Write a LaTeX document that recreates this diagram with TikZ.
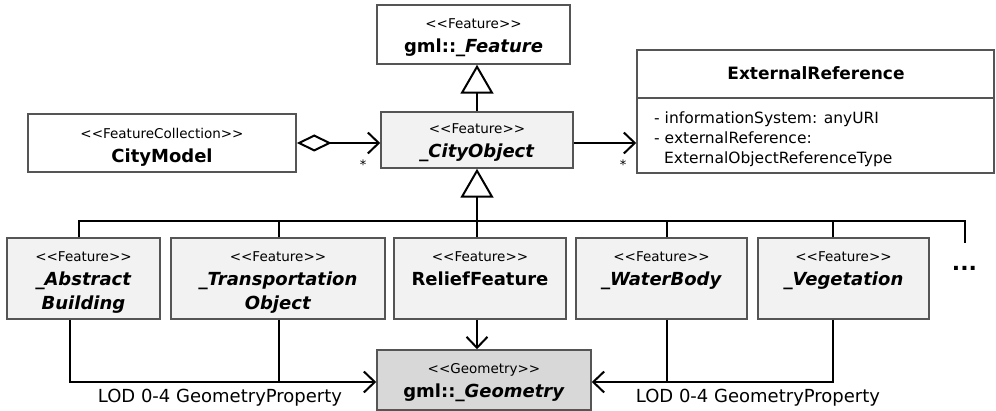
\documentclass[tikz,border=0pt]{standalone}
\usepackage{fontspec}
\setmainfont{DejaVu Sans}
\usetikzlibrary{arrows.meta}
\definecolor{boxline}{HTML}{555555}
\definecolor{featfill}{HTML}{F2F2F2}
\definecolor{geomfill}{HTML}{D8D8D8}
\newcommand{\stereo}[1]{{\fontsize{13.5}{16}\selectfont <{}<#1>{}>}}
\begin{document}
\begin{tikzpicture}[x=1pt,y=-1pt,
    font=\fontsize{18}{24}\selectfont,
    classbox/.style={draw=boxline,line width=1.5pt,fill=white,inner sep=0pt},
    classtext/.style={anchor=north,inner sep=0pt,align=center,yshift=-14.5pt},
    conn/.style={line width=2pt},
    gen/.style={conn,-{Triangle[length=29pt,width=33pt,fill=white]}},
    assoc/.style={conn,-{Straight Barb[length=11pt,width=21pt]}},
    aggr/.style={conn,{Diamond[length=35pt,width=17pt,fill=white]}-{Straight Barb[length=11pt,width=21pt]}},
    mult/.style={font=\fontsize{13}{15}\selectfont,inner sep=0pt}]
  \useasboundingbox (0,0) rectangle (996,411);
  % Lớp gốc và lớp CityObject
  \node[classbox,minimum width=193,minimum height=59] (feature) at (473.5,34.5) {};
  \node[classtext] (feature-t) at (feature.north) {\stereo{Feature}\\\textbf{gml::\textit{\_Feature}}};
  \node[classbox,fill=featfill,minimum width=192,minimum height=56] (city) at (477,140) {};
  \node[classtext,yshift=2pt] (city-t) at (city.north) {\stereo{Feature}\\\textbf{\textit{\_CityObject}}};
  \node[classbox,minimum width=268,minimum height=58] (model) at (162,143) {};
  \node[classtext] (model-t) at (model.north) {\stereo{FeatureCollection}\\\textbf{CityModel}};
  % Lớp ExternalReference với thuộc tính
  \node[classbox,minimum width=357,minimum height=123] (extref) at (815.5,111.5) {};
  \draw[boxline,line width=1.5pt] (extref.west |- 0,98) -- (extref.east |- 0,98);
  \node[inner sep=0pt,font=\fontsize{17}{20}\selectfont\bfseries] (extref-t) at (816,73) {ExternalReference};
  \node[anchor=north west,inner sep=0pt,align=left,font=\fontsize{15.5}{20}\selectfont] (extref-a) at (654,112)
    {- informationSystem: anyURI\\- externalReference:\\\ \ ExternalObjectReferenceType};
  % Các lớp con
  \node[classbox,fill=featfill,minimum width=153,minimum height=81] (building) at (83.5,278.5) {};
  \node[classtext] (building-t) at (building.north) {\stereo{Feature}\\\textbf{\textit{\_Abstract}}\\\textbf{\textit{Building}}};
  \node[classbox,fill=featfill,minimum width=214,minimum height=81] (transport) at (278,278.5) {};
  \node[classtext] (transport-t) at (transport.north) {\stereo{Feature}\\\textbf{\textit{\_Transportation}}\\\textbf{\textit{Object}}};
  \node[classbox,fill=featfill,minimum width=172,minimum height=81] (relief) at (480,278.5) {};
  \node[classtext] (relief-t) at (relief.north) {\stereo{Feature}\\\textbf{ReliefFeature}};
  \node[classbox,fill=featfill,minimum width=171,minimum height=81] (water) at (661.5,278.5) {};
  \node[classtext] (water-t) at (water.north) {\stereo{Feature}\\\textbf{\textit{\_WaterBody}}};
  \node[classbox,fill=featfill,minimum width=171,minimum height=81] (vegetation) at (843.5,278.5) {};
  \node[classtext] (vegetation-t) at (vegetation.north) {\stereo{Feature}\\\textbf{\textit{\_Vegetation}}};
  \node[inner sep=0pt,font=\fontsize{22}{24}\selectfont\bfseries] (more) at (964.5,268) {...};
  % Lớp hình học
  \node[classbox,fill=geomfill,minimum width=214,minimum height=60] (geometry) at (484,380) {};
  \node[classtext] (geometry-t) at (geometry.north) {\stereo{Geometry}\\\textbf{gml::\textit{\_Geometry}}};
  % Kế thừa
  \draw[gen] (city.north) -- (city.north |- feature.south);
  \coordinate (bus) at (477,221);
  \coordinate (busend) at (965,243);
  \draw[gen] (bus) -- (city.south);
  \draw[conn] ([xshift=-4.5pt]building.north) |- (bus) -| (busend);
  \foreach \cls/\dx in {transport/1,relief/-3,water/5.5,vegetation/-10.5}
    \draw[conn] ([xshift=\dx pt]\cls.north) -- ++(0,-17);
  % Quan hệ giữa các lớp
  \draw[aggr] (model.east) -- (model.east -| city.west);
  \draw[assoc] ([yshift=-3pt]city.east) -- ([yshift=-3pt]city.east -| extref.west);
  \node[mult] (mult-city) at (363,165) {*};
  \node[mult] (mult-ext) at (623,165) {*};
  % LOD 0-4
  \draw[assoc] ([xshift=-3pt]relief.south) -- ([xshift=-3pt]relief.south |- geometry.north);
  \draw[assoc] ([xshift=-13.5pt]building.south) |- ([yshift=-2pt]geometry.west);
  \draw[conn] ([xshift=1pt]transport.south) -- ++(0,63);
  \draw[assoc] ([xshift=-10.5pt]vegetation.south) |- ([yshift=-2pt]geometry.east);
  \draw[conn] ([xshift=5.5pt]water.south) -- ++(0,63);
  \node[inner sep=0pt] (lod-left) at (220,398) {LOD 0-4 GeometryProperty};
  \node[inner sep=0pt] (lod-right) at (758,398) {LOD 0-4 GeometryProperty};
\end{tikzpicture}
\end{document}
